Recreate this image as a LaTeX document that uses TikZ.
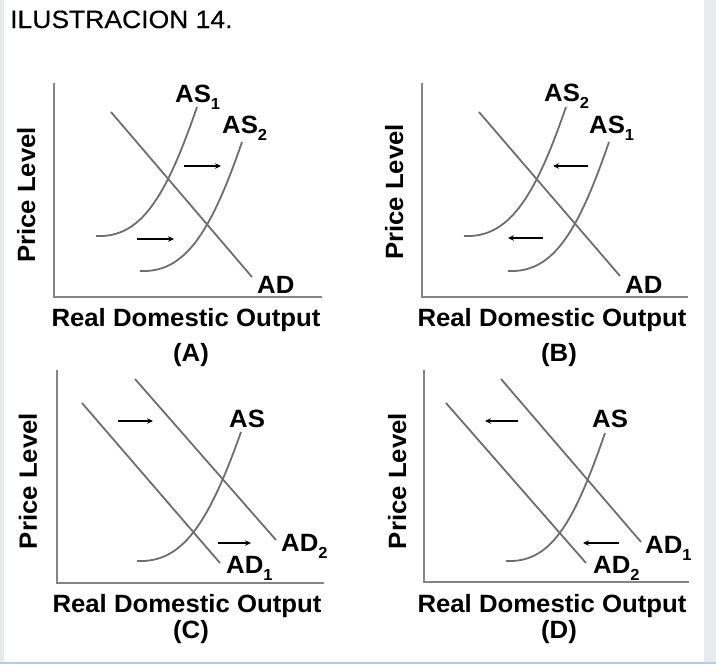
\documentclass[tikz,border=0pt]{standalone}
\usepackage{fontspec}
\usetikzlibrary{arrows.meta}
\newfontfamily\lab[FakeStretch=1.03]{Liberation Sans}
\newfontfamily\ttl[FakeStretch=1.06,FakeBold=0.4]{Liberation Sans}
\definecolor{curvec}{HTML}{6E6E6E}
\definecolor{axisc}{HTML}{858585}
\definecolor{sidec}{HTML}{E7EBED}
\definecolor{barc}{HTML}{A9D1F5}
\newcommand\sbs[1]{\raisebox{-7pt}{\fontsize{16}{16}\selectfont #1}}
\tikzset{
  lbl/.style={font=\lab\bfseries\fontsize{25}{25}\selectfont, inner sep=0pt, anchor=base west},
  axcaption/.style={font=\lab\bfseries\fontsize{25}{25}\selectfont, inner sep=0pt, anchor=base},
  ylab/.style={font=\lab\bfseries\fontsize{25}{25}\selectfont, inner sep=0pt, anchor=base, rotate=90},
  axisline/.style={draw=axisc, line width=2.3pt},
  curveline/.style={draw=curvec, line width=1.8pt},
  shift arrow/.style={draw=black, line width=1.4pt, -{Stealth[length=6pt,width=5.5pt]}},
}
\begin{document}
\begin{tikzpicture}[x=1pt,y=-1pt]
\useasboundingbox (0,0) rectangle (716,664);
\fill[white] (0,0) rectangle (716,664);
\fill[sidec] (0,0) rectangle (4,664);
\fill[sidec] (704,0) rectangle (716,664);
\fill[barc] (0,661.5) rectangle (716,664);

\node[font=\ttl\fontsize{25}{25}\selectfont, anchor=base west, inner sep=0pt] (title) at (10,28) {ILUSTRACION 14.};

% ---------- Panel A ----------
\coordinate (a-top) at (54,83); \coordinate (a-org) at (54,297); \coordinate (a-end) at (322,297);
\draw[axisline] (a-top) -- (a-org) -- (a-end);
\coordinate (a-ad1) at (111,112); \coordinate (a-ad2) at (252,277);
\draw[curveline] (a-ad1) -- (a-ad2);
\coordinate (a-s1a) at (96,236); \coordinate (a-s1b) at (197,107);
\draw[curveline] (a-s1a) .. controls +(44,2) and +(-32,93) .. (a-s1b);
\coordinate (a-s2a) at (140,271); \coordinate (a-s2b) at (242,142);
\draw[curveline] (a-s2a) .. controls +(44,2) and +(-32,93) .. (a-s2b);
\coordinate (a-u1) at (184,166); \coordinate (a-u2) at (221,166);
\draw[shift arrow] (a-u1) -- (a-u2);
\coordinate (a-l1) at (137,239); \coordinate (a-l2) at (174,239);
\draw[shift arrow] (a-l1) -- (a-l2);
\node[lbl] (a-as1) at (175,102) {AS\sbs{1}};
\node[lbl] (a-as2) at (222,133) {AS\sbs{2}};
\node[lbl] (a-ad) at (257,293) {AD};
\node[axcaption] (a-x) at (186,326) {Real Domestic Output};
\node[axcaption] (a-t) at (191,361) {(A)};
\node[ylab] (a-y) at (35,195) {Price Level};

% ---------- Panel B ----------
\coordinate (b-top) at (422,83); \coordinate (b-org) at (422,297); \coordinate (b-end) at (688,297);
\draw[axisline] (b-top) -- (b-org) -- (b-end);
\coordinate (b-ad1) at (479,112); \coordinate (b-ad2) at (620,276);
\draw[curveline] (b-ad1) -- (b-ad2);
\coordinate (b-s2a) at (464,236); \coordinate (b-s2b) at (566,107);
\draw[curveline] (b-s2a) .. controls +(44,2) and +(-32,93) .. (b-s2b);
\coordinate (b-s1a) at (508,271); \coordinate (b-s1b) at (609,142);
\draw[curveline] (b-s1a) .. controls +(44,2) and +(-32,93) .. (b-s1b);
\coordinate (b-u1) at (588,166); \coordinate (b-u2) at (553,166);
\draw[shift arrow] (b-u1) -- (b-u2);
\coordinate (b-l1) at (543,238); \coordinate (b-l2) at (508,238);
\draw[shift arrow] (b-l1) -- (b-l2);
\node[lbl] (b-as2) at (544,101) {AS\sbs{2}};
\node[lbl] (b-as1) at (589,133) {AS\sbs{1}};
\node[lbl] (b-ad) at (625,293) {AD};
\node[axcaption] (b-x) at (552,326) {Real Domestic Output};
\node[axcaption] (b-t) at (559,361) {(B)};
\node[ylab] (b-y) at (403,192) {Price Level};

% ---------- Panel C ----------
\coordinate (c-top) at (57,370); \coordinate (c-org) at (57,583); \coordinate (c-end) at (324,583);
\draw[axisline] (c-top) -- (c-org) -- (c-end);
\coordinate (c-d1a) at (82,403); \coordinate (c-d1b) at (220,563);
\draw[curveline] (c-d1a) -- (c-d1b);
\coordinate (c-d2a) at (135,379); \coordinate (c-d2b) at (276,540);
\draw[curveline] (c-d2a) -- (c-d2b);
\coordinate (c-sa) at (137,561); \coordinate (c-sb) at (241,432);
\draw[curveline] (c-sa) .. controls +(45,2) and +(-33,93) .. (c-sb);
\coordinate (c-u1) at (118,421); \coordinate (c-u2) at (153,421);
\draw[shift arrow] (c-u1) -- (c-u2);
\coordinate (c-l1) at (218,543); \coordinate (c-l2) at (251,543);
\draw[shift arrow] (c-l1) -- (c-l2);
\node[lbl] (c-as) at (229,427) {AS};
\node[lbl] (c-ad2) at (281,551) {AD\sbs{2}};
\node[lbl] (c-ad1) at (226,573) {AD\sbs{1}};
\node[axcaption] (c-x) at (187,612) {Real Domestic Output};
\node[axcaption] (c-t) at (191,638) {(C)};
\node[ylab] (c-y) at (37,481) {Price Level};

% ---------- Panel D ----------
\coordinate (d-top) at (424,370); \coordinate (d-org) at (424,582); \coordinate (d-end) at (689,582);
\draw[axisline] (d-top) -- (d-org) -- (d-end);
\coordinate (d-d2a) at (446,403); \coordinate (d-d2b) at (586,563);
\draw[curveline] (d-d2a) -- (d-d2b);
\coordinate (d-d1a) at (501,379); \coordinate (d-d1b) at (641,542);
\draw[curveline] (d-d1a) -- (d-d1b);
\coordinate (d-sa) at (506,561); \coordinate (d-sb) at (605,433);
\draw[curveline] (d-sa) .. controls +(44,2) and +(-32,93) .. (d-sb);
\coordinate (d-u1) at (518,421); \coordinate (d-u2) at (485,421);
\draw[shift arrow] (d-u1) -- (d-u2);
\coordinate (d-l1) at (619,543); \coordinate (d-l2) at (583,543);
\draw[shift arrow] (d-l1) -- (d-l2);
\node[lbl] (d-as) at (592,427) {AS};
\node[lbl] (d-ad1) at (645,553) {AD\sbs{1}};
\node[lbl] (d-ad2) at (593,573) {AD\sbs{2}};
\node[axcaption] (d-x) at (552,612) {Real Domestic Output};
\node[axcaption] (d-t) at (559,638) {(D)};
\node[ylab] (d-y) at (406,481) {Price Level};
\end{tikzpicture}
\end{document}
